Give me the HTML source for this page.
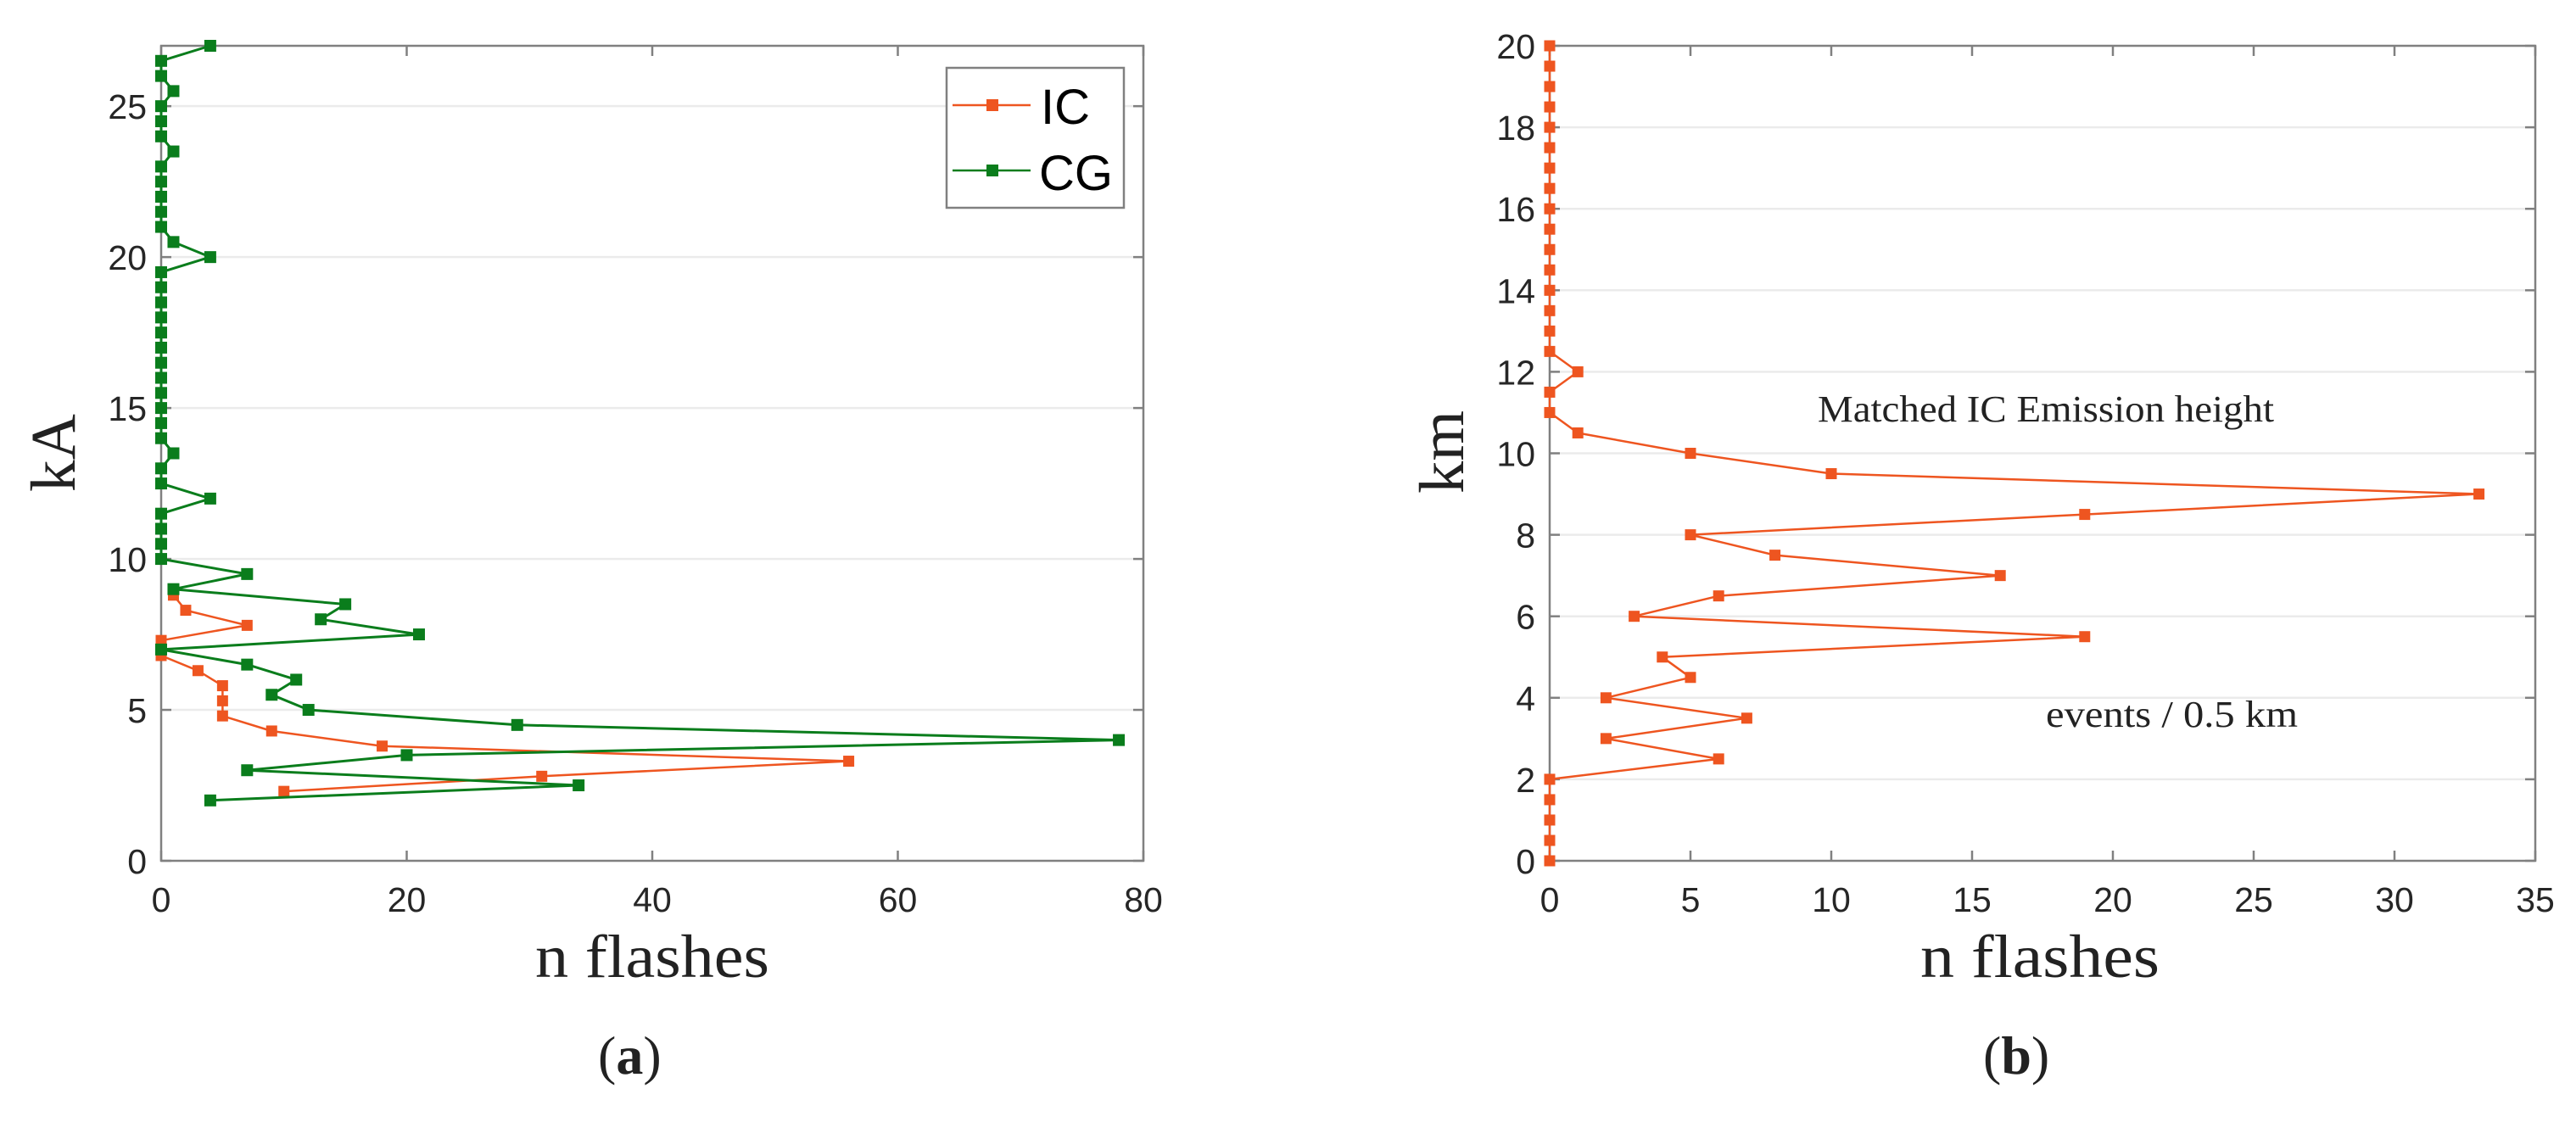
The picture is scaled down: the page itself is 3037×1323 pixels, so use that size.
<!DOCTYPE html>
<html><head><meta charset="utf-8"><style>
html,body{margin:0;padding:0;background:#fff;}
svg{display:block;}
.tick{font-family:"Liberation Sans",sans-serif;font-size:41px;fill:#262626;}
.serif{font-family:"Liberation Serif",serif;fill:#222;}
</style></head><body>
<svg id="fig" width="3037" height="1323" viewBox="0 0 3037 1323" xmlns="http://www.w3.org/2000/svg">
<g id="chartA"></g>
<g id="chartB"></g>
</svg>
<script>
// Chart (a): peak current histogram
const aHeightsCG = [2,2.5,3,3.5,4,4.5,5,5.5,6,6.5,7,7.5,8,8.5,9,9.5,10,10.5,11,11.5,12,12.5,13,13.5,14,14.5,15,15.5,16,16.5,17,17.5,18,18.5,19,19.5,20,20.5,21,21.5,22,22.5,23,23.5,24,24.5,25,25.5,26,26.5,27];
const aValuesCG = [4,34,7,20,78,29,12,9,11,7,0,21,13,15,1,7,0,0,0,0,4,0,0,1,0,0,0,0,0,0,0,0,0,0,0,0,4,1,0,0,0,0,0,1,0,0,0,1,0,0,4];
const aHeightsIC = [2.3,2.8,3.3,3.8,4.3,4.8,5.3,5.8,6.3,6.8,7.3,7.8,8.3,8.8];
const aValuesIC = [10,31,56,18,9,5,5,5,3,0,0,7,2,1];
const aXTicks = [0,20,40,60,80];
const aYTicks = [0,5,10,15,20,25];
// Chart (b): emission height histogram
const bHeights = [0,0.5,1,1.5,2,2.5,3,3.5,4,4.5,5,5.5,6,6.5,7,7.5,8,8.5,9,9.5,10,10.5,11,11.5,12,12.5,13,13.5,14,14.5,15,15.5,16,16.5,17,17.5,18,18.5,19,19.5,20];
const bValues = [0,0,0,0,0,6,2,7,2,5,4,19,3,6,16,8,5,19,33,10,5,1,0,0,1,0,0,0,0,0,0,0,0,0,0,0,0,0,0,0,0];
const bXTicks = [0,5,10,15,20,25,30,35];
const bYTicks = [0,2,4,6,8,10,12,14,16,18,20];

const NS = "http://www.w3.org/2000/svg";
const ORANGE = "#ee5520", GREEN = "#0a7d1c";
function mk(parent, tag, attrs, text) {
  const e = document.createElementNS(NS, tag);
  for (const k in attrs) e.setAttribute(k, attrs[k]);
  if (text !== undefined) e.textContent = text;
  parent.appendChild(e);
  return e;
}
function drawAxes(g, L, R, T, B, xs, ys, xt, yt, fmt) {
  for (const v of yt) {
    const y = ys(v);
    if (v > 0 && y > T + 1) {
      const gl = mk(g, "line", {x1:L, x2:R, y1:y, y2:y, stroke:"#ebebeb", "stroke-width":2.5});
      
      
    }
    mk(g, "line", {x1:L, x2:L+12, y1:y, y2:y, stroke:"#808080", "stroke-width":2.5});
    mk(g, "line", {x1:R, x2:R-12, y1:y, y2:y, stroke:"#808080", "stroke-width":2.5});
    const t = mk(g, "text", {x:L-17, y:y+15, "text-anchor":"end", class:"tick"}, String(v));
    
    
  }
  for (const v of xt) {
    const x = xs(v);
    mk(g, "line", {x1:x, x2:x, y1:B, y2:B-12, stroke:"#808080", "stroke-width":2.5});
    mk(g, "line", {x1:x, x2:x, y1:T, y2:T+12, stroke:"#808080", "stroke-width":2.5});
    const t = mk(g, "text", {x:x, y:1075, "text-anchor":"middle", class:"tick"}, String(v));
    
    
  }
  const box = mk(g, "rect", {x:L, y:T, width:R-L, height:B-T, fill:"none", stroke:"#808080", "stroke-width":2.5});
  
  
}
function drawSeries(g, vals, hs, xs, ys, color, name, lw, ms) {
  const pts = vals.map((v,i) => xs(v).toFixed(1) + "," + ys(hs[i]).toFixed(1)).join(" ");
  const pl = mk(g, "polyline", {points:pts, fill:"none", stroke:color, "stroke-width":lw, "stroke-linejoin":"round"});
  
  
  vals.forEach((v,i) => {
    const r = mk(g, "rect", {x:xs(v)-ms/2, y:ys(hs[i])-ms/2, width:ms, height:ms, fill:color});
    
    
  });
}

// ---- Chart A
(function(){
  const g = document.getElementById("chartA");
  const L=190, R=1348, T=54, B=1015;
  const xs = v => L + v/80*(R-L);
  const ys = v => B - v/27*(B-T);
  drawAxes(g, L, R, T, B, xs, ys, aXTicks, aYTicks);
  drawSeries(g, aValuesIC, aHeightsIC, xs, ys, ORANGE, 'ic', 2.5, 13);
  drawSeries(g, aValuesCG, aHeightsCG, xs, ys, GREEN, 'cg', 3, 14);
  const lg = mk(g, "g", {});
  
  
  mk(lg, "rect", {x:1116, y:80, width:209, height:165, fill:"#fff", stroke:"#808080", "stroke-width":2.5});
  mk(lg, "line", {x1:1123, x2:1215, y1:124, y2:124, stroke:ORANGE, "stroke-width":2.5});
  mk(lg, "rect", {x:1163, y:117, width:14, height:14, fill:ORANGE});
  const t1 = mk(lg, "text", {x:1227, y:146, "font-family":"Liberation Sans, sans-serif", "font-size":58, fill:"#000"}, "IC");
  
  
  mk(lg, "line", {x1:1123, x2:1215, y1:201, y2:201, stroke:GREEN, "stroke-width":2.5});
  mk(lg, "rect", {x:1163, y:194, width:14, height:14, fill:GREEN});
  const t2 = mk(lg, "text", {x:1225, y:224, "font-family":"Liberation Sans, sans-serif", "font-size":58, fill:"#000"}, "CG");
  
  
  const yl = mk(g, "text", {x:0, y:0, transform:"translate(88,580) rotate(-90)", class:"serif", "font-size":75, textLength:92, lengthAdjust:"spacingAndGlyphs"}, "kA");
  
  
  const xl = mk(g, "text", {x:631, y:1152, class:"serif", "font-size":72, textLength:276, lengthAdjust:"spacingAndGlyphs"}, "n flashes");
  
  
  const cap = mk(g, "text", {x:705, y:1266, class:"serif", "font-size":64, fill:"#000"});
  
  
  mk(cap, "tspan", {}, "(");
  mk(cap, "tspan", {"font-weight":"bold"}, "a");
  mk(cap, "tspan", {}, ")");
})();

// ---- Chart B
(function(){
  const g = document.getElementById("chartB");
  const L=1827, R=2989, T=54, B=1015;
  const xs = v => L + v/35*(R-L);
  const ys = v => B - v/20*(B-T);
  drawAxes(g, L, R, T, B, xs, ys, bXTicks, bYTicks);
  drawSeries(g, bValues, bHeights, xs, ys, ORANGE, 'ic-height', 2.5, 13);
  const a1 = mk(g, "text", {x:2143, y:497, class:"serif", "font-size":44, textLength:538, lengthAdjust:"spacingAndGlyphs"}, "Matched IC Emission height");
  
  
  const a2 = mk(g, "text", {x:2412, y:857, class:"serif", "font-size":44, textLength:297, lengthAdjust:"spacingAndGlyphs"}, "events / 0.5 km");
  
  
  const yl = mk(g, "text", {x:0, y:0, transform:"translate(1725,582) rotate(-90)", class:"serif", "font-size":75, textLength:98, lengthAdjust:"spacingAndGlyphs"}, "km");
  
  
  const xl = mk(g, "text", {x:2264, y:1152, class:"serif", "font-size":72, textLength:282, lengthAdjust:"spacingAndGlyphs"}, "n flashes");
  
  
  const cap = mk(g, "text", {x:2338, y:1266, class:"serif", "font-size":64, fill:"#000"});
  
  
  mk(cap, "tspan", {}, "(");
  mk(cap, "tspan", {"font-weight":"bold"}, "b");
  mk(cap, "tspan", {}, ")");
})();
</script>
</body></html>
